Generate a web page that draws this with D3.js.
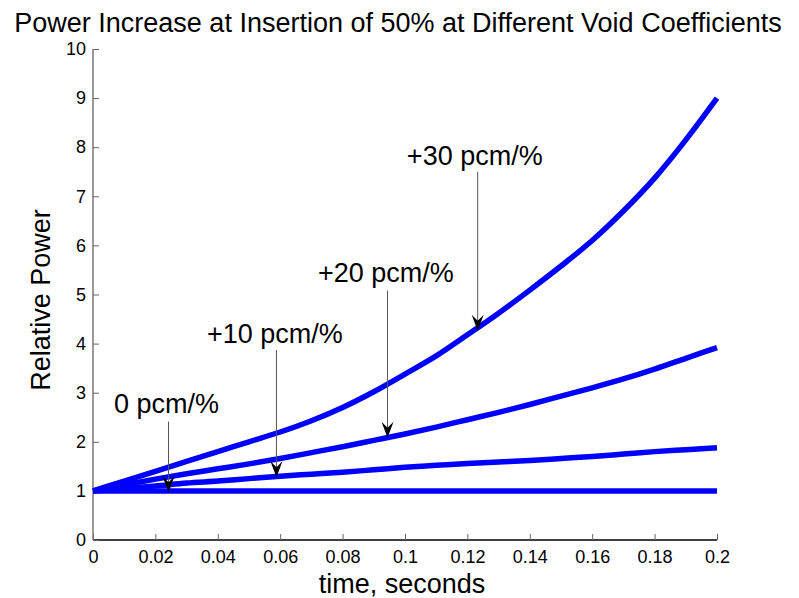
<!DOCTYPE html>
<html><head><meta charset="utf-8">
<script src="https://cdn.jsdelivr.net/npm/d3@7"></script>
<style>body{margin:0;background:#fff;} text{font-family:"Liberation Sans",Arial,sans-serif;}</style>
</head><body>
<svg id="c" width="799" height="598"></svg>
<script>
const times = [0, 0.01, 0.02, 0.03, 0.04, 0.05, 0.06, 0.07, 0.08, 0.09, 0.1, 0.11, 0.12, 0.13, 0.14, 0.15, 0.16, 0.17, 0.18, 0.19, 0.2];
const p0  = [1,1,1,1,1,1,1,1,1,1,1,1,1,1,1,1,1,1,1,1,1];
const p10 = [1, 1.05, 1.1, 1.16, 1.2, 1.25, 1.3, 1.34, 1.38, 1.43, 1.48, 1.52, 1.56, 1.59, 1.62, 1.66, 1.7, 1.75, 1.8, 1.84, 1.88];
const p20 = [1, 1.12, 1.24, 1.35, 1.45, 1.55, 1.66, 1.78, 1.9, 2.03, 2.16, 2.3, 2.45, 2.6, 2.76, 2.93, 3.1, 3.28, 3.48, 3.7, 3.92];
const p30 = [1, 1.2, 1.4, 1.6, 1.8, 2.0, 2.2, 2.43, 2.7, 3.02, 3.38, 3.75, 4.18, 4.62, 5.09, 5.58, 6.1, 6.7, 7.37, 8.15, 9.0];
const series = [p0, p10, p20, p30];
const xTicks = [0,0.02,0.04,0.06,0.08,0.1,0.12,0.14,0.16,0.18,0.2];
const yTicks = [0,1,2,3,4,5,6,7,8,9,10];
const labels = ["0 pcm/%", "+10 pcm/%", "+20 pcm/%", "+30 pcm/%"];
const arrowT = [0.0242, 0.0588, 0.0944, 0.1233];
const arrowV = [0.97, 1.28, 2.08, 4.26];
const arrowTopV = [2.41, 3.87, 5.08, 7.5];
const labelT = [0.0067, 0.0365, 0.0721, 0.1006];
const labelV = [2.59, 4.01, 5.255, 7.64];

const title = "Power Increase at Insertion of 50% at Different Void Coefficients";
const xLabel = "time, seconds";
const yLabel = "Relative Power";

const svg = d3.select("#c");
const L = 93, R = 717, T = 49, B = 540;
const x = d3.scaleLinear().domain([0, 0.2]).range([L, R]);
const y = d3.scaleLinear().domain([0, 10]).range([B, T]);

// axes
const xAxis = d3.axisBottom(x).tickValues(xTicks).tickSize(-6).tickPadding(9).tickFormat(d => String(+d.toFixed(2)));
const gx = svg.append("g").attr("transform", `translate(0,${B})`).call(xAxis);
gx.select(".domain").attr("stroke", "#000").attr("stroke-width", 1.5).attr("d", `M${L},0H${R}`);
gx.selectAll(".tick line").attr("stroke", "#666");
gx.selectAll(".tick text").attr("font-size", 18).attr("fill", "#000").attr("font-family", "Liberation Sans, Arial, sans-serif").attr("dy", "0.8em");

const yAxis = d3.axisLeft(y).tickValues(yTicks).tickSize(-6).tickPadding(7);
const gy = svg.append("g").attr("transform", `translate(${L},0)`).call(yAxis);
gy.select(".domain").attr("stroke", "#777").attr("stroke-width", 1.5).attr("d", `M0,${B}V${T}`);
gy.selectAll(".tick line").attr("stroke", "#666");
gy.selectAll(".tick text").attr("font-size", 18).attr("fill", "#000").attr("font-family", "Liberation Sans, Arial, sans-serif");

// lines
const line = d3.line().x((d, i) => x(times[i])).y(d => y(d)).curve(d3.curveMonotoneX);
svg.append("g").selectAll("path").data(series).join("path")
  .attr("d", line).attr("fill", "none").attr("stroke", "#0000ff").attr("stroke-width", 5.5).attr("stroke-linejoin", "round");

// annotations
const ann = svg.append("g");
labels.forEach((lab, i) => {
  const ax = x(arrowT[i]), ay = y(arrowV[i]), ty = y(arrowTopV[i]);
  ann.append("line").attr("x1", ax).attr("x2", ax).attr("y1", ty).attr("y2", ay - 8)
    .attr("stroke", "#555").attr("stroke-width", 1);
  ann.append("path")
    .attr("d", `M${ax},${ay} L${ax-6},${ay-16} L${ax},${ay-10} L${ax+6},${ay-16} Z`)
    .attr("fill", "#000");
  ann.append("text").attr("x", x(labelT[i])).attr("y", y(labelV[i]))
    .attr("font-size", 27).text(lab);
});

svg.append("text").attr("x", 398).attr("y", 32).attr("text-anchor", "middle").attr("font-size", 27).text(title);
svg.append("text").attr("x", 402).attr("y", 593).attr("text-anchor", "middle").attr("font-size", 27).text(xLabel);
svg.append("text").attr("transform", `translate(50,300) rotate(-90)`).attr("text-anchor", "middle").attr("font-size", 27).text(yLabel);
</script>
</body></html>
